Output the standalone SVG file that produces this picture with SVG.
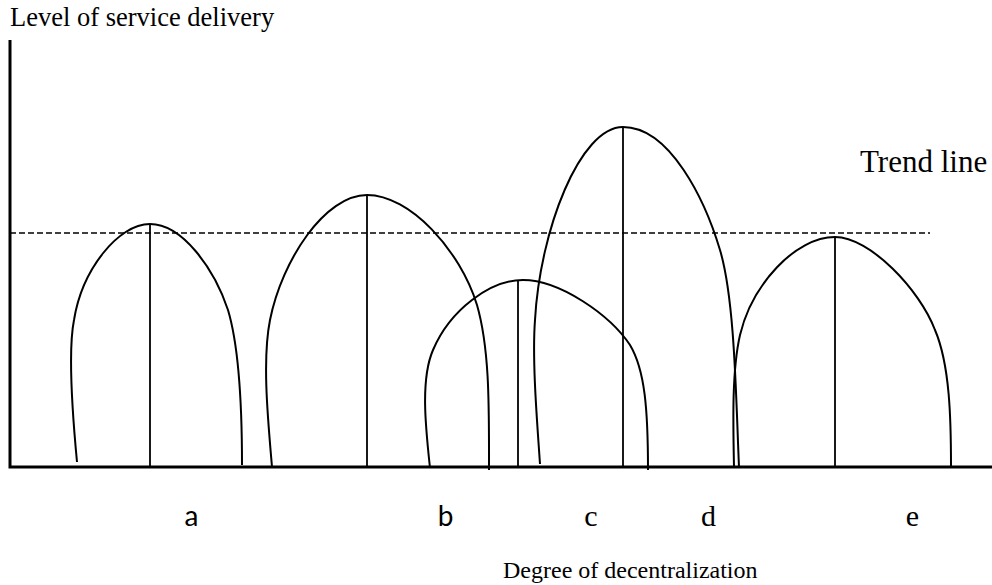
<svg xmlns="http://www.w3.org/2000/svg" width="992" height="585" viewBox="0 0 992 585">
<style>
.axis{stroke:#000;stroke-width:3;fill:none}
.curve{stroke:#000;stroke-width:2;fill:none}
.stem{stroke:#000;stroke-width:1.8}
.trend{stroke:#000;stroke-width:1.5;stroke-dasharray:6 3;fill:none}
.serif{font-family:"Liberation Serif","Times New Roman",serif;fill:#000}
.sans{font-family:Lato,"Liberation Sans",sans-serif;fill:#000}
</style>
<rect width="992" height="585" fill="#fff"/>
<g id="axes">
<path class="axis" d="M10,40 V467 H992"/>
<text class="serif" x="10" y="26" font-size="26.5">Level of service delivery</text>
<text class="serif" x="503" y="578" font-size="24">Degree of decentralization</text>
</g>
<g id="trend-line">
<line class="trend" x1="10" y1="233" x2="930" y2="233"/>
<text class="serif" x="860" y="172" font-size="31">Trend line</text>
</g>
<g id="curve-a">
<path class="curve" d="M77,462 C73,420 68,350 74,320 C82,270 118,224 150,224 C182,224 214,268 228,310 C240,350 242,410 242,465"/>
<line class="stem" x1="150" y1="224" x2="150" y2="467"/>
<text class="sans" x="191.5" y="526" font-size="28" text-anchor="middle">a</text>
</g>
<g id="curve-b">
<path class="curve" d="M272,467 C268,420 262,360 270,320 C282,260 325,195 367,195 C410,195 460,250 477,305 C490,350 489,410 489,470"/>
<line class="stem" x1="367" y1="195" x2="367" y2="467"/>
<text class="sans" x="445.5" y="526" font-size="28" text-anchor="middle">b</text>
</g>
<g id="curve-c">
<path class="curve" d="M430,468 C426,430 420,380 433,350 C450,310 490,280 523,280 C560,280 610,315 630,345 C645,370 648,410 648,470"/>
<line class="stem" x1="518" y1="280" x2="518" y2="467"/>
<text class="serif" x="591" y="526" font-size="30" text-anchor="middle">c</text>
</g>
<g id="curve-d">
<path class="curve" d="M540,464 C537,420 532,360 535,320 C540,230 580,127 623,127 C670,127 705,200 720,250 C735,300 736,400 739,467"/>
<line class="stem" x1="623" y1="127" x2="623" y2="467"/>
<text class="serif" x="708.5" y="526" font-size="30" text-anchor="middle">d</text>
</g>
<g id="curve-e">
<path class="curve" d="M734,467 C733,420 732,370 740,335 C752,285 795,237 835,237 C870,237 920,290 935,330 C950,365 951,420 951,467"/>
<line class="stem" x1="835" y1="237" x2="835" y2="467"/>
<text class="serif" x="912.5" y="526" font-size="30" text-anchor="middle">e</text>
</g>
</svg>
